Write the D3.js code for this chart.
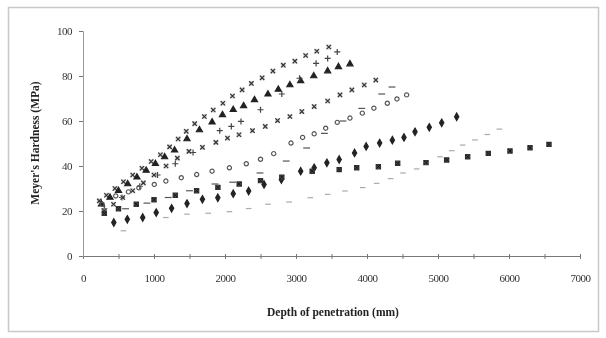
<!DOCTYPE html>
<html>
<head>
<meta charset="utf-8">
<script src="https://cdn.jsdelivr.net/npm/d3@7"></script>
<style>
  body { margin: 0; background: #fff; }
  svg { display: block; }
</style>
</head>
<body>
<script>
// values (depth in mm, Meyer's hardness in MPa)
const xTicks = [0, 1000, 2000, 3000, 4000, 5000, 6000, 7000];
const yTicks = [0, 20, 40, 60, 80, 100];

const s1Depth = [230, 330, 450, 570, 700, 830, 960, 1090, 1220, 1340, 1454, 1573, 1709, 1834, 1970, 2105, 2241, 2371, 2523, 2675, 2821, 2984, 3136, 3293, 3462];
const s1Hard  = [24.5, 27, 30, 33, 36, 39, 42, 45, 48.5, 52, 55.4, 58.8, 62, 64.9, 67.9, 71.1, 73.8, 76.7, 79.2, 82.2, 84.8, 86.6, 89.1, 91, 92.9];

const s2Depth = [260, 380, 500, 630, 760, 890, 1020, 1150, 1290, 1465, 1640, 1818, 1964, 2116, 2262, 2415, 2605, 2751, 2914, 3066, 3250, 3446, 3598, 3760];
const s2Hard  = [23, 26, 29, 32, 35, 38, 41, 44, 47, 52, 56, 59.5, 62.7, 65, 66.7, 69.4, 71.9, 74, 76, 77.8, 80, 82.2, 84.1, 85.3];

const s3Depth = [300, 550, 800, 1050, 1300, 1550, 1926, 2089, 2225, 2500, 2800, 3050, 3283, 3446, 3581];
const s3Hard  = [21, 26, 31, 36, 41, 46, 55.7, 57.6, 59.8, 65, 72, 79, 85.6, 87.8, 90.7];

const s4Depth = [300, 430, 560, 700, 850, 1000, 1170, 1329, 1492, 1682, 1872, 2035, 2197, 2387, 2567, 2740, 2914, 3082, 3256, 3446, 3619, 3787, 3961, 4124];
const s4Hard  = [20, 23, 26, 29, 32.5, 36, 40, 43.5, 46.5, 48.3, 50.5, 52.4, 53.9, 55.7, 57.6, 60.2, 62, 64.2, 66.4, 68.9, 71.6, 73.8, 76, 78.2];

const s5Depth = [270, 461, 640, 787, 1004, 1167, 1384, 1601, 1818, 2062, 2300, 2500, 2686, 2930, 3093, 3256, 3418, 3581, 3760, 3934, 4097, 4286, 4422, 4558];
const s5Hard  = [23, 26.7, 28.5, 30.3, 31.8, 33.3, 34.8, 36.2, 37.7, 39.2, 41, 43, 45.5, 50.2, 52.7, 54.3, 56.8, 59.4, 61.3, 63.5, 65.7, 67.9, 69.8, 71.6];

const s6Depth = [600, 900, 1200, 1500, 1859, 2108, 2493, 2862, 3150, 3400, 3662, 3926, 4207, 4352];
const s6Hard  = [21, 23.5, 26, 29, 32, 32.8, 36.9, 42.2, 48, 54.5, 60, 65.6, 72, 75.1];

const s7Depth = [434, 624, 841, 1031, 1248, 1465, 1682, 1899, 2116, 2333, 2550, 2794, 3066, 3256, 3435, 3608, 3825, 3988, 4178, 4357, 4521, 4676, 4877, 5052, 5263];
const s7Hard  = [14.9, 16.3, 17.1, 19.3, 21.2, 23.3, 25.2, 25.9, 27.7, 28.9, 31.8, 34, 37.7, 39.2, 41.4, 42.9, 45.8, 48.7, 50.2, 51.5, 52.7, 55.2, 57.2, 59.2, 61.9];

const s8Depth = [300, 500, 750, 1000, 1300, 1600, 1900, 2200, 2500, 2800, 3228, 3608, 3855, 4160, 4432, 4831, 5122, 5418, 5708, 6014, 6296, 6563];
const s8Hard  = [19, 21, 23, 25, 27, 29, 30.5, 32, 33.5, 35, 37.7, 38.4, 39.2, 39.7, 41.2, 41.5, 42.7, 44.1, 45.6, 46.7, 48.1, 49.6];

const s9Depth = [570, 1167, 1465, 1764, 2062, 2333, 2605, 2903, 3201, 3446, 3690, 3939, 4136, 4333, 4507, 4700, 5028, 5193, 5348, 5521, 5694, 5864];
const s9Hard  = [11.2, 17.1, 18.6, 19, 19.7, 21.1, 23, 24, 25.9, 27.4, 28.9, 30.4, 32.3, 34.4, 36.9, 38.7, 44.1, 46.8, 49.3, 51.6, 54, 56.4];

const width = 606, height = 338;
const margin = { top: 31, right: 26, bottom: 82, left: 83 };

const svg = d3.select("body").append("svg")
  .attr("width", width)
  .attr("height", height);

// soft blur to imitate the scan
svg.append("defs").append("filter")
  .attr("id", "soft")
  .append("feGaussianBlur")
  .attr("stdDeviation", 0.55);

// outer frame
svg.append("rect")
  .attr("x", 8.5).attr("y", 7.5)
  .attr("width", 590).attr("height", 324)
  .attr("fill", "none")
  .attr("stroke", "#c8c8c8")
  .attr("stroke-width", 1.5);

const x = d3.scaleLinear()
  .domain([0, 7000])
  .range([margin.left, width - margin.right]);

const y = d3.scaleLinear()
  .domain([0, 100])
  .range([height - margin.bottom, margin.top]);

const g = svg.append("g").attr("filter", "url(#soft)");

// x axis: labels every 1000, ticks every 500
g.append("g")
  .attr("transform", `translate(0,${y(0)})`)
  .call(d3.axisBottom(x).tickValues(d3.range(0, 7001, 500)).tickSize(3).tickFormat(""))
  .call(a => a.selectAll("line").attr("y1", -2).attr("stroke", "#777"))
  .call(a => a.select(".domain").attr("stroke", "#777"));

g.append("g")
  .attr("transform", `translate(0,${y(0)})`)
  .call(d3.axisBottom(x).tickValues(xTicks).tickSize(0).tickPadding(18).tickFormat(d3.format("d")))
  .call(a => a.select(".domain").remove())
  .call(a => a.selectAll("text")
    .attr("font-family", "Liberation Serif, serif")
    .attr("font-size", 11)
    .attr("letter-spacing", -0.5)
    .attr("fill", "#333"));

// y axis
g.append("g")
  .attr("transform", `translate(${x(0)},0)`)
  .call(d3.axisLeft(y).tickValues(yTicks).tickSize(4).tickPadding(7))
  .call(a => a.select(".domain").attr("stroke", "#999"))
  .call(a => a.selectAll("line").attr("stroke", "#777"))
  .call(a => a.selectAll("text")
    .attr("font-family", "Liberation Serif, serif")
    .attr("font-size", 11)
    .attr("letter-spacing", -0.5)
    .attr("fill", "#333"));

// axis titles
g.append("text")
  .attr("x", 333).attr("y", 316)
  .attr("text-anchor", "middle")
  .attr("font-family", "Liberation Serif, serif")
  .attr("font-weight", "bold")
  .attr("font-size", 11.5)
  .attr("fill", "#222")
  .text("Depth of penetration (mm)");

g.append("text")
  .attr("transform", "translate(39,143) rotate(-90)")
  .attr("text-anchor", "middle")
  .attr("font-family", "Liberation Serif, serif")
  .attr("font-weight", "bold")
  .attr("font-size", 11.5)
  .attr("fill", "#222")
  .text("Meyer's Hardness (MPa)");

// a short horizontal dash as a symbol type
const symbolDash = {
  draw(context, size) {
    const w = Math.sqrt(size) * 0.7;
    context.moveTo(-w, 0);
    context.lineTo(w, 0);
  }
};

const series = [
  { depth: s1Depth, hard: s1Hard, type: d3.symbolTimes, size: 14, fill: "none", stroke: "#333", box: true },
  { depth: s2Depth, hard: s2Hard, type: d3.symbolTriangle, size: 16, fill: "#222", stroke: "#222" },
  { depth: s3Depth, hard: s3Hard, type: d3.symbolPlus, size: 14, fill: "none", stroke: "#444" },
  { depth: s4Depth, hard: s4Hard, type: d3.symbolTimes, size: 14, fill: "none", stroke: "#333", box: true },
  { depth: s5Depth, hard: s5Hard, type: d3.symbolCircle, size: 14, fill: "none", stroke: "#555" },
  { depth: s6Depth, hard: s6Hard, type: symbolDash, size: 24, fill: "none", stroke: "#555" },
  { depth: s7Depth, hard: s7Hard, type: d3.symbolDiamond, size: 16, fill: "#222", stroke: "#222" },
  { depth: s8Depth, hard: s8Hard, type: d3.symbolSquare, size: 18, fill: "#555", stroke: "#333", cross: true },
  { depth: s9Depth, hard: s9Hard, type: symbolDash, size: 16, fill: "none", stroke: "#aaa" }
];

const marks = g.append("g");

series.forEach(s => {
  const pts = s.depth.map((d, i) => ({ d, h: s.hard[i] }));
  const grp = marks.append("g");
  if (s.box) {
    grp.selectAll("path.box").data(pts).join("path")
      .attr("class", "box")
      .attr("transform", p => `translate(${x(p.d)},${y(p.h)})`)
      .attr("d", d3.symbol(d3.symbolSquare, 26)())
      .attr("fill", "#bbb")
      .attr("fill-opacity", 0.5);
  }
  grp.selectAll("path.mk").data(pts).join("path")
    .attr("class", "mk")
    .attr("transform", p => `translate(${x(p.d)},${y(p.h)})`)
    .attr("d", d3.symbol(s.type, s.size)())
    .attr("fill", s.fill)
    .attr("stroke", s.stroke)
    .attr("stroke-width", 1.2);
  if (s.cross) {
    grp.selectAll("path.cx").data(pts).join("path")
      .attr("class", "cx")
      .attr("transform", p => `translate(${x(p.d)},${y(p.h)})`)
      .attr("d", d3.symbol(d3.symbolTimes, 10)())
      .attr("fill", "none")
      .attr("stroke", "#111")
      .attr("stroke-width", 1);
  }
});
</script>
</body>
</html>
